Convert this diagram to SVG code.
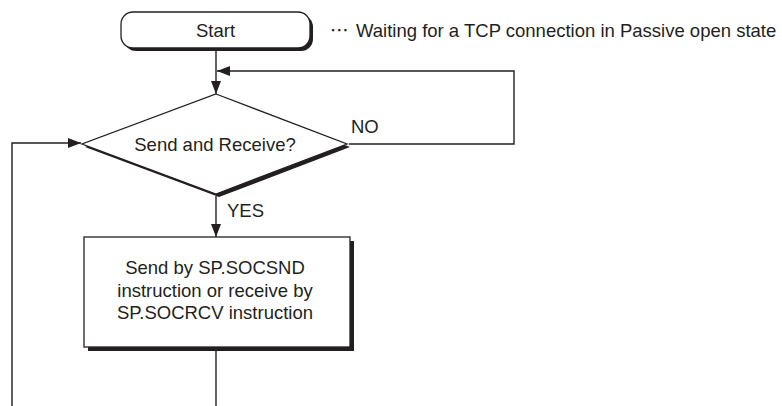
<svg xmlns="http://www.w3.org/2000/svg" width="782" height="406" viewBox="0 0 782 406">
<style>
.t{font-family:"Liberation Sans",Arial,sans-serif;font-size:18.5px;fill:#231f20}
.line{fill:none;stroke:#231f20;stroke-width:1.4}
.shape{fill:#fff;stroke:#231f20;stroke-width:1.3}
.shadow{fill:#231f20}
</style>
<defs>
<marker id="arr" markerUnits="userSpaceOnUse" markerWidth="13" markerHeight="10" refX="13" refY="5" orient="auto">
<path d="M0,0 L13,5 L0,10 z" fill="#231f20"/>
</marker>
</defs>
<g id="connectors">
<path class="line" d="M216,51 V94" marker-end="url(#arr)"/>
<path class="line" d="M349,144 H514 V71 H217" marker-end="url(#arr)"/>
<path class="line" d="M216,196 V237" marker-end="url(#arr)"/>
<path class="line" d="M216,351 V406"/>
<path class="line" d="M12,406 V143 H81" marker-end="url(#arr)"/>
</g>
<g id="start">
<rect class="shadow" x="124" y="15" width="189" height="36" rx="12"/>
<rect class="shape" x="121" y="12" width="189" height="36" rx="12"/>
<text class="t" x="215.5" y="37" text-anchor="middle">Start</text>
</g>
<g id="note">
<text x="330" y="37" style="font-family:'Noto Sans CJK JP',sans-serif;font-size:18.5px;fill:#231f20">…</text>
<text class="t" x="356" y="37">Waiting for a TCP connection in Passive open state</text>
</g>
<g id="decision">
<polygon class="shadow" points="219,97 350,147 219,197 85,147"/>
<polygon class="shape" points="216,94 347,144 216,194 82,144"/>
<text class="t" x="215" y="151" text-anchor="middle">Send and Receive?</text>
<text class="t" x="351" y="133">NO</text>
<text class="t" x="227" y="217">YES</text>
</g>
<g id="process">
<rect class="shadow" x="88" y="241" width="266" height="110"/>
<rect class="shape" x="84" y="237" width="266" height="110"/>
<text class="t" text-anchor="middle"><tspan x="215" y="274">Send by SP.SOCSND</tspan><tspan x="215" y="296.5">instruction or receive by</tspan><tspan x="215" y="319">SP.SOCRCV instruction</tspan></text>
</g>
</svg>
